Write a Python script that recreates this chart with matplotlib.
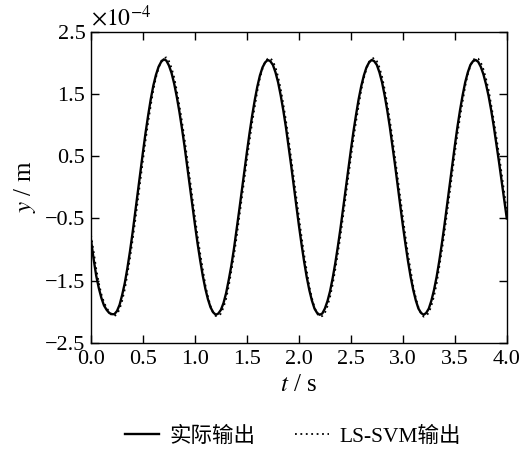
import numpy as np
import matplotlib
matplotlib.use('Agg')
import matplotlib.pyplot as plt

plt.rcParams['font.family'] = ['Liberation Serif', 'Noto Sans CJK SC']
plt.rcParams['mathtext.fontset'] = 'stix'
plt.rcParams['axes.unicode_minus'] = False

# time axis, 0.025 s step
t = np.arange(0, 161) * 0.025

# actual output (x 1e-4 m)
y_actual = [
    -0.85, -1.15, -1.42, -1.62, -1.78, -1.90, -1.97, -2.02, -2.04, -2.04,
    -1.99, -1.89, -1.73, -1.54, -1.30, -1.03, -0.73, -0.41, -0.08, 0.25,
    0.57, 0.88, 1.16, 1.42, 1.64, 1.81, 1.94, 2.02, 2.06, 2.04,
    1.96, 1.84, 1.67, 1.46, 1.22, 0.95, 0.66, 0.35, 0.03, -0.29,
    -0.60, -0.90, -1.17, -1.42, -1.63, -1.80, -1.93, -2.01, -2.05, -2.03,
    -1.97, -1.86, -1.70, -1.49, -1.26, -0.99, -0.69, -0.38, -0.06, 0.26,
    0.57, 0.87, 1.15, 1.40, 1.62, 1.80, 1.93, 2.01, 2.05, 2.03,
    1.97, 1.85, 1.69, 1.48, 1.24, 0.97, 0.67, 0.36, 0.03, -0.29,
    -0.61, -0.91, -1.19, -1.44, -1.65, -1.82, -1.95, -2.02, -2.05, -2.03,
    -1.95, -1.83, -1.67, -1.46, -1.22, -0.95, -0.66, -0.35, -0.03, 0.29,
    0.60, 0.90, 1.17, 1.42, 1.63, 1.80, 1.93, 2.01, 2.05, 2.03,
    1.97, 1.85, 1.69, 1.48, 1.24, 0.97, 0.67, 0.36, 0.03, -0.29,
    -0.61, -0.91, -1.19, -1.44, -1.65, -1.82, -1.95, -2.02, -2.05, -2.02,
    -1.95, -1.82, -1.65, -1.44, -1.19, -0.91, -0.61, -0.29, 0.03, 0.36,
    0.67, 0.97, 1.24, 1.48, 1.69, 1.85, 1.97, 2.03, 2.05, 2.02,
    1.94, 1.82, 1.66, 1.47, 1.24, 0.98, 0.70, 0.41, 0.11, -0.20,
    -0.50,
]

# LS-SVM output (x 1e-4 m)
y_svm = [
    -0.77, -1.03, -1.31, -1.54, -1.72, -1.85, -1.94, -2.00, -2.06, -2.07,
    -2.04, -1.96, -1.82, -1.64, -1.40, -1.14, -0.85, -0.54, -0.21, 0.12,
    0.44, 0.76, 1.05, 1.32, 1.57, 1.77, 1.92, 2.03, 2.08, 2.09,
    2.03, 1.92, 1.77, 1.56, 1.32, 1.06, 0.78, 0.47, 0.16, -0.16,
    -0.48, -0.78, -1.06, -1.32, -1.57, -1.76, -1.91, -2.02, -2.07, -2.07,
    -2.03, -1.93, -1.79, -1.59, -1.35, -1.10, -0.81, -0.50, -0.19, 0.13,
    0.45, 0.75, 1.04, 1.30, 1.55, 1.76, 1.91, 2.02, 2.07, 2.08,
    2.03, 1.93, 1.78, 1.58, 1.34, 1.08, 0.79, 0.48, 0.16, -0.16,
    -0.48, -0.79, -1.08, -1.34, -1.59, -1.78, -1.93, -2.03, -2.08, -2.07,
    -2.02, -1.91, -1.76, -1.56, -1.32, -1.06, -0.78, -0.47, -0.16, 0.16,
    0.48, 0.78, 1.06, 1.32, 1.57, 1.76, 1.91, 2.02, 2.07, 2.08,
    2.03, 1.93, 1.78, 1.58, 1.34, 1.08, 0.79, 0.48, 0.16, -0.16,
    -0.48, -0.79, -1.08, -1.34, -1.59, -1.78, -1.93, -2.03, -2.08, -2.06,
    -2.02, -1.90, -1.75, -1.55, -1.29, -1.02, -0.73, -0.42, -0.10, 0.23,
    0.55, 0.85, 1.13, 1.38, 1.63, 1.82, 1.96, 2.05, 2.08, 2.07,
    2.01, 1.90, 1.75, 1.57, 1.33, 1.08, 0.81, 0.53, 0.23, -0.08,
    -0.38,
]

x_ticks = [0.0, 0.5, 1.0, 1.5, 2.0, 2.5, 3.0, 3.5, 4.0]
y_ticks = [-2.5, -1.5, -0.5, 0.5, 1.5, 2.5]

fig = plt.figure(figsize=(5.23, 4.57), dpi=100)
ax = fig.add_axes([0.174, 0.250, 0.795, 0.680])

ax.plot(t, y_actual, color='black', linewidth=1.7, label='实际输出')
ax.plot(t, y_svm, color='black', linewidth=1.3, linestyle=(0, (1, 2)), label='LS-SVM输出')

ax.set_xlim(0, 4.0)
ax.set_ylim(-2.5, 2.5)
ax.set_xticks(x_ticks)
ax.set_xticklabels([f'{v:.1f}' for v in x_ticks])
ax.set_yticks(y_ticks)
ax.set_yticklabels([f'{v:.1f}'.replace('-', '\u2212') for v in y_ticks])
ax.tick_params(direction='in', length=6, width=1, top=True, right=True,
               labelsize=16)
ax.tick_params(axis='x', pad=5)
ax.tick_params(axis='y', pad=4)
for s in ax.spines.values():
    s.set_linewidth(1.0)

ax.text(0.0, 1.005, r'$\times 10^{-4}$', transform=ax.transAxes,
        fontsize=17, ha='left', va='bottom')

ax.set_xlabel(r'$t$ / s', fontsize=18, labelpad=4)
ax.set_ylabel(r'$y$ / m', fontsize=18, labelpad=5)

fig.legend(loc='center', bbox_to_anchor=(0.56, 0.045), ncol=2, frameon=False,
           fontsize=15.5, handlelength=1.6, columnspacing=1.8, handletextpad=0.5)

fig.savefig('out.png', dpi=100)
